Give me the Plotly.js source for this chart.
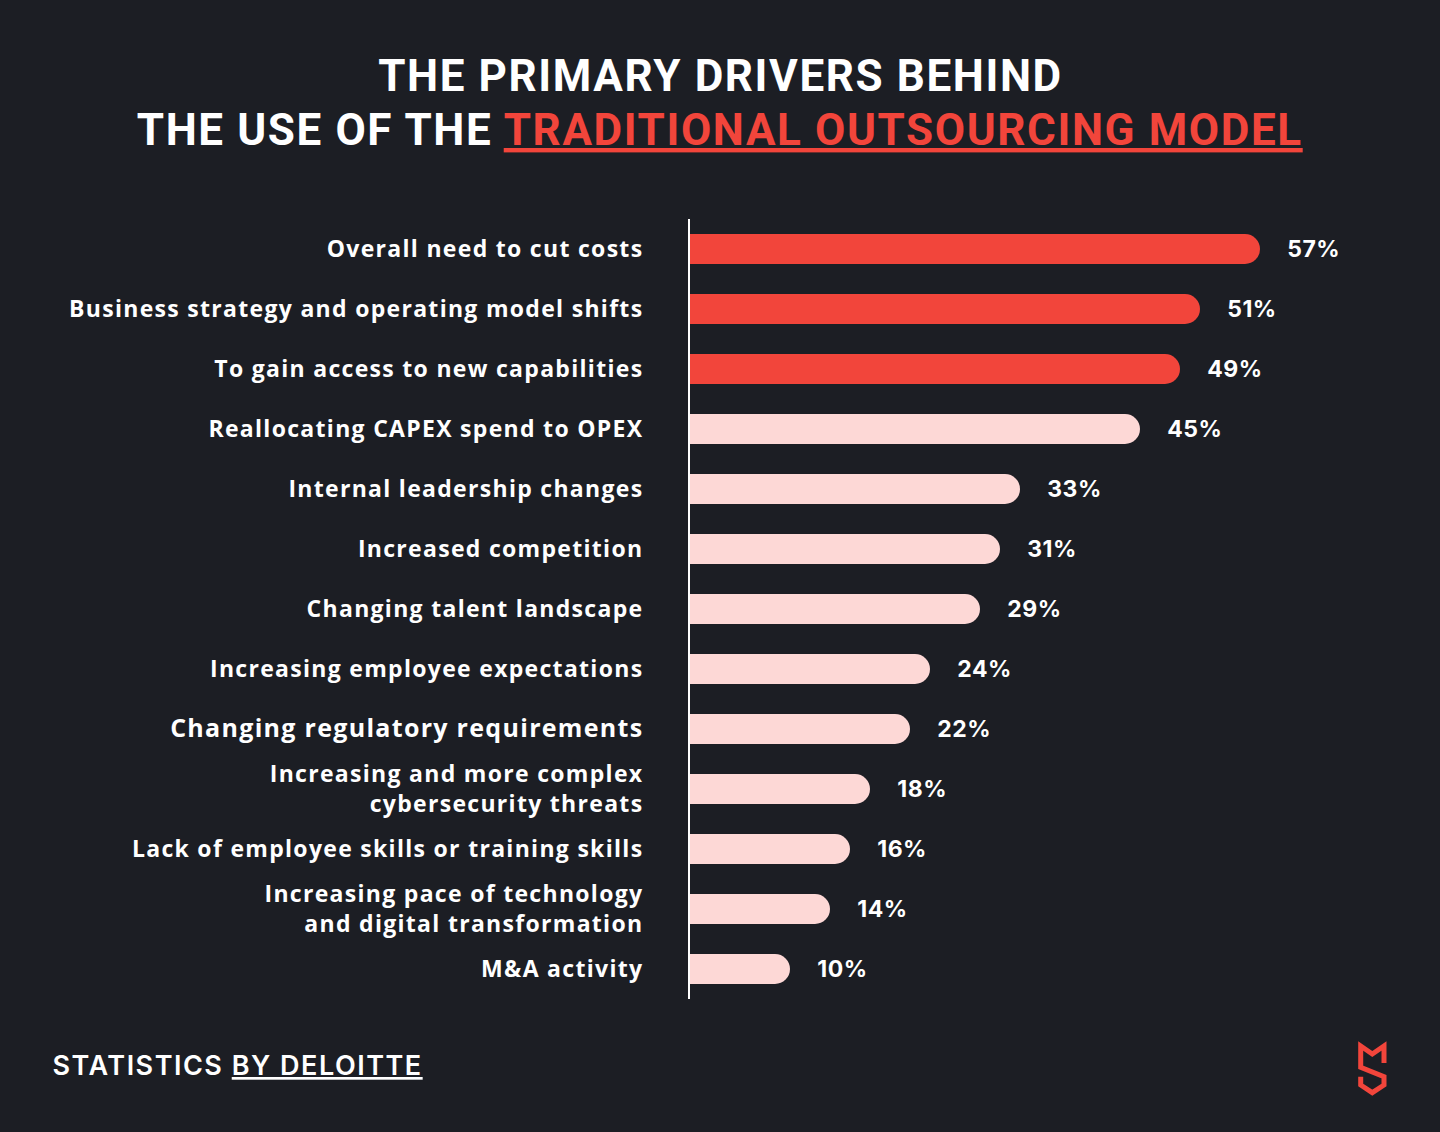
<!DOCTYPE html>
<html>
<head>
<meta charset="utf-8">
<script src="https://cdn.plot.ly/plotly-3.0.1.min.js"></script>
<style>
  html, body { margin: 0; padding: 0; background: #1c1e24; }
  #chart { width: 1440px; height: 1132px; }
  #chart .ytick text { letter-spacing: 1.3px; }
  #chart .annotation.title-ann text { letter-spacing: 1.6px; }
  #chart .annotation.footer-ann text { letter-spacing: 1.5px; }
  #chart .annotation.value-ann text { letter-spacing: 0.5px; }
</style>
</head>
<body>
<div id="chart"></div>
<script>
// ---- data ----
const categories = [
  "Overall need to cut costs",
  "Business strategy and operating model shifts",
  "To gain access to new capabilities",
  "Reallocating CAPEX spend to OPEX",
  "Internal leadership changes",
  "Increased competition",
  "Changing talent landscape",
  "Increasing employee expectations",
  "Changing regulatory requirements",
  "Increasing and more complex<br>cybersecurity threats",
  "Lack of employee skills or training skills",
  "Increasing pace of technology<br>and digital transformation",
  "M&A activity"
];
const values = [57, 51, 49, 45, 33, 31, 29, 24, 22, 18, 16, 14, 10];
const highlightCount = 3;

const titleLine1 = "THE PRIMARY DRIVERS BEHIND";
const titleLine2a = "THE USE OF THE ";
const titleLine2b = "TRADITIONAL OUTSOURCING MODEL";
const footerA = "STATISTICS ";
const footerB = "BY DELOITTE";

// ---- styles ----
const BG = "#1c1e24";
const RED = "#f2453b";
const PINK = "#fdd8d6";
const LABEL_FONT = "'Open Sans', Inter, sans-serif";

const barColors = values.map((v, i) => i < highlightCount ? RED : PINK);
const tickText = categories.map(c =>
  c === "Changing regulatory requirements"
    ? '<span style="font-size:25px">' + c + '</span>' : c);

const trace = {
  type: "bar",
  orientation: "h",
  x: values,
  y: categories,
  width: 0.5,
  marker: { color: barColors, cornerradius: 15, line: { width: 0 } },
  hoverinfo: "skip"
};

const annotations = values.map((v, i) => ({
  x: v, y: categories[i], xref: "x", yref: "y",
  text: v + "%",
  name: "value",
  showarrow: false, xanchor: "left", yanchor: "middle", xshift: 26,
  font: { family: "Inter, sans-serif", size: 23, color: "#ffffff", weight: 700 }
}));

// titles
annotations.push({
  name: "title1",
  xref: "paper", yref: "paper", x: (720 - 690) / 750, y: (999 - 76) / 780,
  xanchor: "center", yanchor: "middle", showarrow: false,
  text: "<b>" + titleLine1 + "</b>",
  font: { family: "Roboto, sans-serif", size: 44, color: "#ffffff" }
});
annotations.push({
  name: "title2",
  xref: "paper", yref: "paper", x: (720 - 690) / 750, y: (999 - 130) / 780,
  xanchor: "center", yanchor: "middle", showarrow: false,
  text: "<b>" + titleLine2a + '<span style="color:' + RED + '"><u>' + titleLine2b + "</u></span></b>",
  font: { family: "Roboto, sans-serif", size: 44, color: "#ffffff" }
});
// footer
annotations.push({
  name: "footer",
  xref: "paper", yref: "paper", x: (67 - 690) / 750, y: (999 - 1065) / 780,
  xanchor: "left", yanchor: "middle", showarrow: false,
  text: footerA + "<u>" + footerB + "</u>",
  font: { family: "Inter, sans-serif", size: 27, color: "#ffffff", weight: 600 }
});

const logoPath =
  "M -56 -64 L -56 -47 L -67.7 -55 L -79.3 -47 L -79.3 -68.3 L -56 -77.7 L -56 -86 L -67.7 -93.7 L -79.3 -86 L -79.3 -77.7";

const layout = {
  width: 1440,
  height: 1132,
  paper_bgcolor: BG,
  plot_bgcolor: BG,
  margin: { l: 690, r: 0, t: 219, b: 133 },
  showlegend: false,
  xaxis: {
    range: [0, 75],
    visible: false,
    fixedrange: true
  },
  yaxis: {
    autorange: "reversed",
    type: "category",
    tickvals: categories,
    ticktext: tickText,
    showline: true,
    linecolor: "#ffffff",
    linewidth: 2,
    showgrid: false,
    zeroline: false,
    ticks: "outside",
    ticklen: 40,
    tickcolor: "rgba(0,0,0,0)",
    tickfont: { family: LABEL_FONT, size: 23, color: "#ffffff", weight: 700 },
    fixedrange: true
  },
  annotations: annotations,
  shapes: [{
    type: "path",
    xref: "paper", yref: "paper",
    xsizemode: "pixel", ysizemode: "pixel",
    xanchor: 1, yanchor: 0,
    path: logoPath,
    line: { color: RED, width: 5 },
    fillcolor: "rgba(0,0,0,0)"
  }]
};

Plotly.newPlot("chart", [trace], layout, { staticPlot: true, displayModeBar: false }).then(gd => {
  const groups = gd.querySelectorAll(".annotation");
  groups.forEach((g, i) => {
    const a = gd.layout.annotations[i];
    if (!a) return;
    if (a.name === "value") g.classList.add("value-ann");
    else if (a.name === "footer") g.classList.add("footer-ann");
    else g.classList.add("title-ann");
  });
});
</script>
</body>
</html>
